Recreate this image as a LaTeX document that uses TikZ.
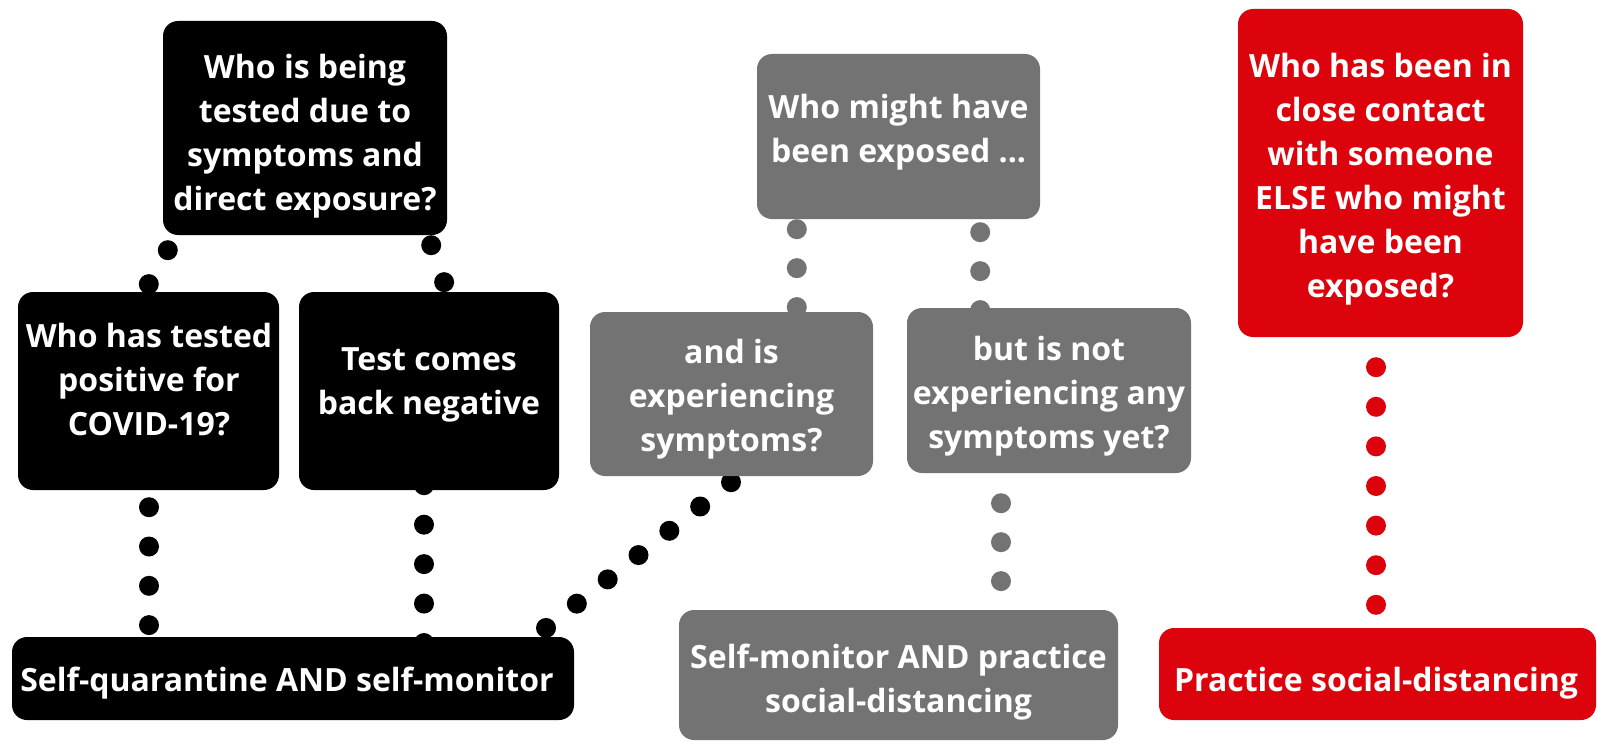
\documentclass[tikz,border=0pt]{standalone}
\usepackage{fontspec}
\setmainfont{Open Sans}
\usetikzlibrary{backgrounds,calc}
\definecolor{cgray}{RGB}{115,115,115}
\definecolor{cred}{RGB}{221,3,12}
\newcommand{\fstrut}{\rule{0pt}{30pt}}
\begin{document}
\begin{tikzpicture}[x=1pt,y=-1pt,
  box/.style={rectangle, rounded corners=15pt, inner sep=0pt, draw=none},
  blk/.style={box, fill=black},
  gry/.style={box, fill=cgray},
  rd/.style={box, fill=cred},
  txt/.style={anchor=north, inner sep=0pt, align=center, text=white, font=\fontsize{32}{44}\selectfont\bfseries},
  dotc/.style 2 args={line width=20pt, line cap=round, dash pattern=on 0pt off #2, draw=#1, shorten >=-3pt},
]
\useasboundingbox (0,0) rectangle (1597,741);
% boxes
\node[blk, minimum width=284pt, minimum height=214pt] (A) at (305,128) {};
\node[blk, minimum width=261pt, minimum height=198pt] (B) at (148.5,391) {};
\node[blk, minimum width=260pt, minimum height=198pt] (C) at (429,391) {};
\node[blk, minimum width=562pt, minimum height=83pt] (D) at (293,678.5) {};
\node[gry, minimum width=283pt, minimum height=165pt] (E) at (898.5,136.5) {};
\node[gry, minimum width=283pt, minimum height=164pt] (F) at (731.5,394) {};
\node[gry, minimum width=284pt, minimum height=165pt] (G) at (1049,390.5) {};
\node[gry, minimum width=439pt, minimum height=130pt] (H) at (898.5,675) {};
\node[rd, minimum width=285pt, minimum height=328pt] (I) at (1380.5,173) {};
\node[rd, minimum width=437pt, minimum height=92pt] (J) at (1377.5,674) {};
% texts
\node[txt] (At) at (305,48) {\fstrut Who is being\\tested due to\\symptoms and\\direct exposure?};
\node[txt] (Bt) at (149,317) {\fstrut Who has tested\\positive for\\COVID-19?};
\node[txt] (Ct) at (429,340) {\fstrut Test comes\\back negative};
\node[txt] (Dt) at (287,661) {\fstrut Self-quarantine AND self-monitor};
\node[txt] (Et) at (898.5,88) {\fstrut Who might have\\been exposed ...};
\node[txt] (Ft) at (731.5,333) {\fstrut and is\\experiencing\\symptoms?};
\node[txt] (Gt) at (1049,330) {\fstrut but is not\\experiencing any\\symptoms yet?};
\node[txt] (Ht) at (898.5,638) {\fstrut Self-monitor AND practice\\social-distancing};
\node[txt] (It) at (1380.5,47) {\fstrut Who has been in\\close contact\\with someone\\ELSE who might\\have been\\exposed?};
\node[txt] (Jt) at (1376,661) {\fstrut Practice social-distancing};
% connector end points
\coordinate (ab1) at ($(A.south west)+(5,15)$);
\coordinate (ab2) at ($(B.north)+(0.5,-8)$);
\coordinate (ac1) at ($(A.south east)+(-16,10)$);
\coordinate (ac2) at ($(C.north)+(15,-10)$);
\coordinate (bd1) at ($(B.south)+(0.5,17)$);
\coordinate (bd2) at ($(bd1 |- D.north)+(0,-12)$);
\coordinate (cd1) at ($(C.south)+(-5,-5)$);
\coordinate (cd2) at ($(cd1 |- D.north)+(0,6)$);
\coordinate (fd1) at ($(F.south)+(-0.5,6)$);
\coordinate (fd2) at ($(D.north east)+(-28,-9)$);
\coordinate (ef1) at ($(E.south west)+(40,10)$);
\coordinate (ef2) at ($(ef1 |- F.north)+(0,-5)$);
\coordinate (eg1) at ($(E.south east)+(-60,13)$);
\coordinate (eg2) at ($(eg1 |- G.north)+(0,2)$);
\coordinate (gh1) at ($(G.south)+(-48,30)$);
\coordinate (gh2) at ($(gh1 |- H.north)+(0,-29)$);
\coordinate (ij1) at ($(I.south)+(-4.5,30)$);
\coordinate (ij2) at ($(ij1 |- J.north)+(0,-23)$);
\begin{scope}[on background layer]
\fill[white] (0,0) rectangle (1597,741);
\draw[dotc={black}{38.9pt}] (ab1) -- (ab2);
\draw[dotc={black}{39.15pt}] (ac1) -- (ac2);
\draw[dotc={black}{39.3pt}] (bd1) -- (bd2);
\draw[dotc={black}{39.45pt}] (cd1) -- (cd2);
\draw[dotc={black}{39.25pt}] (fd1) -- (fd2);
\draw[dotc={cgray}{38.95pt}] (ef1) -- (ef2);
\draw[dotc={cgray}{38.95pt}] (eg1) -- (eg2);
\draw[dotc={cgray}{38.95pt}] (gh1) -- (gh2);
\draw[dotc={cred}{39.6pt}] (ij1) -- (ij2);
\end{scope}
\end{tikzpicture}
\end{document}
